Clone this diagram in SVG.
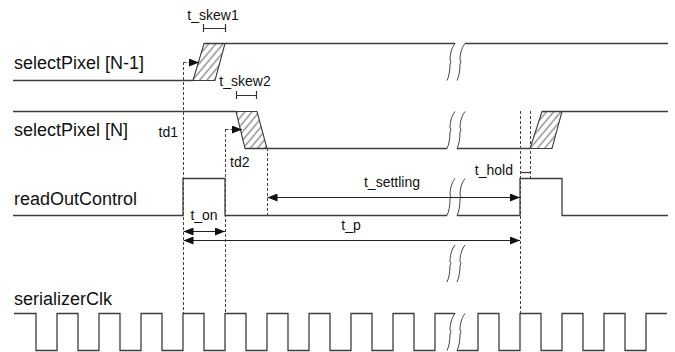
<svg xmlns="http://www.w3.org/2000/svg" width="675" height="352" viewBox="0 0 675 352">
<style>
.w{fill:none;stroke:#3c3c3c;stroke-width:1.3}
.h{fill:url(#hatch);stroke:#3c3c3c;stroke-width:1.1}
.d{fill:none;stroke:#444;stroke-width:1;stroke-dasharray:3,2}
.a{fill:none;stroke:#222;stroke-width:1.2}
.b{fill:none;stroke:#333;stroke-width:1.2}
.br{fill:none;stroke:#444;stroke-width:1}
.lbl{font-family:"Liberation Sans",Arial,sans-serif;font-size:18px;fill:#111}
.sm{font-family:"Liberation Sans",Arial,sans-serif;font-size:14px;fill:#111}
</style>
<defs>
<pattern id="hatch" patternUnits="userSpaceOnUse" width="5.5" height="10" patternTransform="rotate(40)">
<line x1="1" y1="0" x2="1" y2="10" stroke="#222" stroke-width="0.75"/>
</pattern>
<marker id="ah" viewBox="0 0 10 8" refX="10" refY="4" markerWidth="10" markerHeight="8" markerUnits="userSpaceOnUse" orient="auto-start-reverse">
<path d="M0,0 L10,4 L0,8 z" fill="#111"/>
</marker>
<path id="brk" d="M8,0 C4,5 3,12 3,16.5 l1,2 l-1,2 C3,27 2,33 0,37"/>
</defs>

<g id="labels">
<text class="lbl" x="14" y="69">selectPixel [N-1]</text>
<text class="lbl" x="14" y="136">selectPixel [N]</text>
<text class="lbl" x="14" y="205">readOutControl</text>
<text class="lbl" x="14" y="305">serializerClk</text>
</g>

<g id="selectPixelNm1">
<path class="w" d="M13,80.5 H193 M204,43.5 H455 M465,43.5 H668"/>
<polygon class="h" points="193,80.5 215,80.5 225,43.5 204,43.5"/>
</g>

<g id="selectPixelN">
<path class="w" d="M13,111.5 H236 M245,148.5 H447 M457,148.5 H530 M542,111.5 H668"/>
<polygon class="h" points="236,111.5 257,111.5 267,148.5 245,148.5"/>
<polygon class="h" points="530,148.5 552,148.5 562,111.5 542,111.5"/>
</g>

<g id="readOutControl">
<path class="w" d="M13,215.5 H183 V178.5 H225 V215.5 H447 M457,215.5 H520 V178.5 H562 V215.5 H668"/>
</g>

<g id="serializerClk">
<path class="w" d="M14,313.5 H36 V350.5 H57 V313.5 H78 V350.5 H99 V313.5 H120 V350.5 H141 V313.5 H162 V350.5 H183 V313.5 H204 V350.5 H225 V313.5 H246 V350.5 H267 V313.5 H288 V350.5 H309 V313.5 H330 V350.5 H351 V313.5 H372 V350.5 H393 V313.5 H414 V350.5 H435 V313.5 H455 M457,350.5 H478 V313.5 H499 V350.5 H520 V313.5 H541 V350.5 H562 V313.5 H583 V350.5 H604 V313.5 H625 V350.5 H646 V313.5 H667"/>
</g>

<g id="breaks">
<use href="#brk" class="br" x="447" y="43.5"/>
<use href="#brk" class="br" x="457" y="43.5"/>
<use href="#brk" class="br" x="447" y="111.5"/>
<use href="#brk" class="br" x="457" y="111.5"/>
<use href="#brk" class="br" x="447" y="178.5"/>
<use href="#brk" class="br" x="457" y="178.5"/>
<use href="#brk" class="br" x="447" y="245"/>
<use href="#brk" class="br" x="457" y="245"/>
<use href="#brk" class="br" x="447" y="313.5"/>
<use href="#brk" class="br" x="457" y="313.5"/>
</g>

<g id="connectors">
<path class="d" d="M183.5,62 V313 M225.5,129 V313 M267.5,148 V215 M520.5,111 V313 M530.5,111 V178"/>
<path class="d" d="M183.5,62.5 H190" />
<path class="a" d="M189,62.5 H199" marker-end="url(#ah)"/>
<path class="d" d="M225.5,129.5 H233"/>
<path class="a" d="M232,129.5 H242" marker-end="url(#ah)"/>
<path class="a" d="M267.5,197.5 H520" marker-start="url(#ah)" marker-end="url(#ah)"/>
<path class="a" d="M183.5,231.5 H225" marker-start="url(#ah)" marker-end="url(#ah)"/>
<path class="a" d="M183.5,240.5 H520" marker-start="url(#ah)" marker-end="url(#ah)"/>
<path class="b" d="M203,28.5 H225 M203.5,24 V32 M225.5,24 V32"/>
<path class="b" d="M236,95.5 H256 M236.5,91 V99 M256.5,91 V99"/>
<path class="b" d="M520,172.5 H530"/>
</g>

<g id="annotations">
<text class="sm" x="213" y="20" text-anchor="middle">t_skew1</text>
<text class="sm" x="245" y="86" text-anchor="middle">t_skew2</text>
<text class="sm" x="178" y="137" text-anchor="end">td1</text>
<text class="sm" x="230" y="167">td2</text>
<text class="sm" x="392" y="187" text-anchor="middle">t_settling</text>
<text class="sm" x="513" y="175" text-anchor="end">t_hold</text>
<text class="sm" x="204" y="220" text-anchor="middle">t_on</text>
<text class="sm" x="351" y="230" text-anchor="middle">t_p</text>
</g>
</svg>
